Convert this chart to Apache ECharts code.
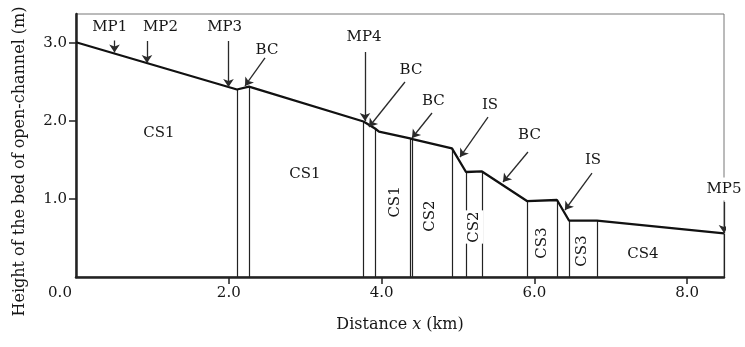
<!DOCTYPE html>
<html>
<head>
<meta charset="utf-8">
<script src="https://cdn.jsdelivr.net/npm/echarts@6.0.0/dist/echarts.min.js"></script>
<style>
html, body { margin: 0; padding: 0; background: #fff; }
#chart { width: 745px; height: 347px; }
</style>
</head>
<body>
<div id="chart"></div>
<script>
// bed of the channel, [distance km, height m]
var bedProfile = [
  [0, 3.01], [2.107, 2.404], [2.264, 2.442], [3.763, 1.994], [3.914, 1.904],
  [3.966, 1.865], [4.372, 1.776], [4.404, 1.769], [4.921, 1.65], [5.105, 1.346],
  [5.314, 1.353], [5.903, 0.974], [6.296, 0.987], [6.453, 0.724], [6.819, 0.724],
  [8.482, 0.558]
];
// vertical section boundaries, [x, top]
var sectionLines = [
  [2.107, 2.404], [2.264, 2.442], [3.763, 1.994], [3.914, 1.904], [4.372, 1.776],
  [4.404, 1.769], [4.921, 1.65], [5.105, 1.346], [5.314, 1.353], [5.903, 0.974],
  [6.296, 0.987], [6.453, 0.724], [6.819, 0.724], [8.482, 0.558]
];
// channel section names
var sectionNames = ['CS1', 'CS1', 'CS1', 'CS2', 'CS2', 'CS3', 'CS3', 'CS4'];
var sectionNamePos = [
  [1.086, 1.846], [2.997, 1.321], [4.175, 0.962], [4.634, 0.782],
  [5.209, 0.641], [6.099, 0.436], [6.623, 0.333], [7.421, 0.295]
];
var sectionNameRot = [0, 0, 90, 90, 90, 90, 90, 0];
// measuring points / structures with arrows
var markNames = ['MP1', 'MP2', 'MP3', 'BC', 'MP4', 'BC', 'BC', 'IS', 'BC', 'IS', 'MP5'];
var markNamePos = [
  [0.441, 3.199], [1.106, 3.199], [1.946, 3.199], [2.5, 2.904], [3.77, 3.07],
  [4.385, 2.654], [4.679, 2.25], [5.419, 2.205], [5.936, 1.821], [6.767, 1.5],
  [8.482, 1.128]
];
var markArrows = [
  [[0.504, 3.032], [0.504, 2.878]],
  [[0.929, 3.026], [0.929, 2.744]],
  [[1.996, 3.026], [1.996, 2.436]],
  [[2.474, 2.808], [2.212, 2.449]],
  [[3.783, 2.885], [3.783, 2.0]],
  [[4.306, 2.5], [3.835, 1.923]],
  [[4.66, 2.103], [4.398, 1.782]],
  [[5.393, 2.051], [5.026, 1.538]],
  [[5.916, 1.603], [5.589, 1.218]],
  [[6.754, 1.333], [6.4, 0.859]],
  [[8.482, 0.962], [8.482, 0.564]]
];
var xTicks = [2, 4, 6, 8];
var xLabels = [0, 2, 4, 6, 8];
var yTicks = [1, 2, 3];

var font = 'DejaVu Serif';
var ink = '#161616';

var textData = [];
sectionNames.forEach(function (n, i) {
  var item = { name: n, value: sectionNamePos[i], label: { rotate: sectionNameRot[i] } };
  if (i === 4) {
    item.label.backgroundColor = '#fff';
    item.label.padding = [2, 1];
  }
  textData.push(item);
});
markNames.forEach(function (n, i) {
  var item = { name: n, value: markNamePos[i] };
  if (n === 'MP5') {
    item.label = { backgroundColor: '#fff', padding: [4, 0] };
  }
  textData.push(item);
});

var chart = echarts.init(document.getElementById('chart'));
var option = {
  animation: false,
  grid: {
    left: 76, right: 21, top: 14, bottom: 70,
    show: true, borderColor: '#777', borderWidth: 1,
    outerBoundsMode: 'none'
  },
  xAxis: {
    type: 'value', min: 0, max: 8.482, interval: 2,
    name: 'Distance {i|x} (km)',
    nameLocation: 'middle', nameGap: 40,
    nameTextStyle: {
      fontFamily: font, fontSize: 16, color: ink,
      rich: { i: { fontFamily: font, fontSize: 16, fontStyle: 'italic', color: ink } }
    },
    axisLine: { show: true, onZero: false, lineStyle: { color: '#222', width: 2.5 } },
    axisTick: { show: true, length: 7, customValues: xTicks, lineStyle: { color: '#222', width: 1.5 } },
    axisLabel: {
      customValues: xLabels, margin: 9,
      fontFamily: font, fontSize: 15, color: ink,
      formatter: function (v) {
        return v === 0 ? '{z|0.0}' : v.toFixed(1);
      },
      rich: { z: { padding: [0, 32, 0, 0], fontFamily: font, fontSize: 15, color: ink } }
    },
    splitLine: { show: false }
  },
  yAxis: {
    type: 'value', min: 0, max: 3.372, interval: 1,
    name: 'Height of the bed of open-channel (m)',
    nameLocation: 'middle', nameGap: 48,
    nameTextStyle: { fontFamily: font, fontSize: 16, color: ink, padding: [0, 32, 0, 0] },
    axisLine: { show: true, onZero: false, lineStyle: { color: '#222', width: 2.5 } },
    axisTick: { show: true, length: 7, customValues: yTicks, lineStyle: { color: '#222', width: 1.5 } },
    axisLabel: {
      customValues: yTicks, margin: 9,
      fontFamily: font, fontSize: 15, color: ink,
      formatter: function (v) { return v.toFixed(1); }
    },
    splitLine: { show: false }
  },
  series: [
    {
      type: 'lines',
      coordinateSystem: 'cartesian2d',
      silent: true,
      symbol: 'none',
      lineStyle: { color: '#222', width: 1.2, opacity: 1 },
      data: sectionLines.map(function (s) {
        return { coords: [[s[0], 0], [s[0], s[1]]] };
      }),
      z: 2
    },
    {
      type: 'line',
      data: bedProfile,
      symbol: 'none',
      silent: true,
      lineStyle: { color: '#111', width: 2.3 },
      z: 3
    },
    {
      type: 'lines',
      coordinateSystem: 'cartesian2d',
      silent: true,
      symbol: ['none', 'arrow'],
      symbolSize: 8,
      lineStyle: { color: '#2a2a2a', width: 1.3, opacity: 1 },
      data: markArrows.map(function (a) {
        return { coords: a };
      }),
      z: 4
    },
    {
      type: 'scatter',
      silent: true,
      symbolSize: 0,
      itemStyle: { color: ink, opacity: 1 },
      label: {
        show: true, position: 'inside',
        fontFamily: font, fontSize: 15, color: ink, opacity: 1,
        formatter: function (p) { return p.name; }
      },
      data: textData,
      z: 5
    }
  ]
};
chart.setOption(option);
</script>
</body>
</html>
